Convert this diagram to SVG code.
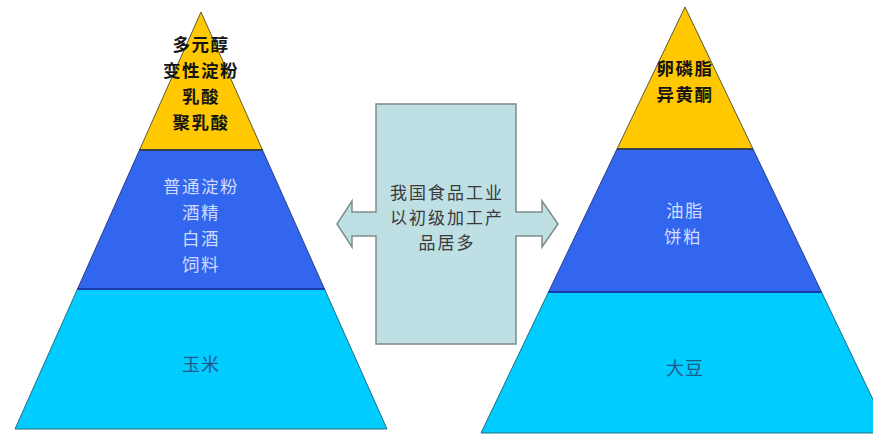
<svg xmlns="http://www.w3.org/2000/svg" width="873" height="436" viewBox="0 0 873 436">
<style>
text{font-family:"Noto Sans CJK SC","Noto Sans",sans-serif;text-anchor:middle;dominant-baseline:central}
.y{fill:#FFC800;stroke:#5a5a3a;stroke-width:1}
.b{fill:#3366EE;stroke:#2a3f8a;stroke-width:1}
.c{fill:#00CCFF;stroke:#1f6f80;stroke-width:1}
.sep1{stroke:#34404a;stroke-width:2}
.sep2{stroke:#1a3aa8;stroke-width:2}
.tk{font-size:17.5px;font-weight:bold;fill:#141414;letter-spacing:1.5px}
.tb{font-size:17.5px;fill:#CFDBFF;letter-spacing:1.5px}
.tc{font-size:18px;fill:#1F5A8A;letter-spacing:1px}
.tm{font-size:17px;fill:#3a3a3a;letter-spacing:2px}
</style>
<rect width="873" height="436" fill="#ffffff"/>
<g id="left-pyramid">
  <g id="left-top">
    <polygon class="y" points="201,12 262.5,150 139.5,150"/>
    <text class="tk" x="201" y="43">多元醇</text>
    <text class="tk" x="201" y="69">变性淀粉</text>
    <text class="tk" x="201" y="95">乳酸</text>
    <text class="tk" x="201" y="121">聚乳酸</text>
  </g>
  <g id="left-middle">
    <polygon class="b" points="139.5,150 262.5,150 324.5,289 77.5,289"/>
    <text class="tb" x="201" y="185">普通淀粉</text>
    <text class="tb" x="201" y="211">酒精</text>
    <text class="tb" x="201" y="237">白酒</text>
    <text class="tb" x="201" y="263">饲料</text>
  </g>
  <g id="left-bottom">
    <polygon class="c" points="77.5,289 324.5,289 387,429 15,429"/>
    <text class="tc" x="201" y="363">玉米</text>
  </g>
  <line class="sep1" x1="139.5" y1="150" x2="262.5" y2="150"/>
  <line class="sep2" x1="77.5" y1="289" x2="324.5" y2="289"/>
</g>
<g id="right-pyramid">
  <g id="right-top">
    <polygon class="y" points="685,7 753,149 617,149"/>
    <text class="tk" x="685" y="67">卵磷脂</text>
    <text class="tk" x="685" y="93">异黄酮</text>
  </g>
  <g id="right-middle">
    <polygon class="b" points="617,149 753,149 821.5,292 548.5,292"/>
    <text class="tb" x="685" y="209">油脂</text>
    <text class="tb" x="683" y="235">饼粕</text>
  </g>
  <g id="right-bottom">
    <polygon class="c" points="548.5,292 821.5,292 889,433 481,433"/>
    <text class="tc" x="685" y="367">大豆</text>
  </g>
  <line class="sep1" x1="617" y1="149" x2="753" y2="149"/>
  <line class="sep2" x1="548.5" y1="292" x2="821.5" y2="292"/>
</g>
<g id="callout">
  <polygon points="376,104 516,104 516,212 542,212 542,201 558,224 542,247 542,236 516,236 516,344 376,344 376,236 352,236 352,247 337,224 352,201 352,212 376,212" fill="#BEDFE3" stroke="#7f8c8c" stroke-width="1.5"/>
  <text class="tm" x="447" y="191">我国食品工业</text>
  <text class="tm" x="447" y="216">以初级加工产</text>
  <text class="tm" x="447" y="241">品居多</text>
</g>
<g id="connectors"/>
</svg>
